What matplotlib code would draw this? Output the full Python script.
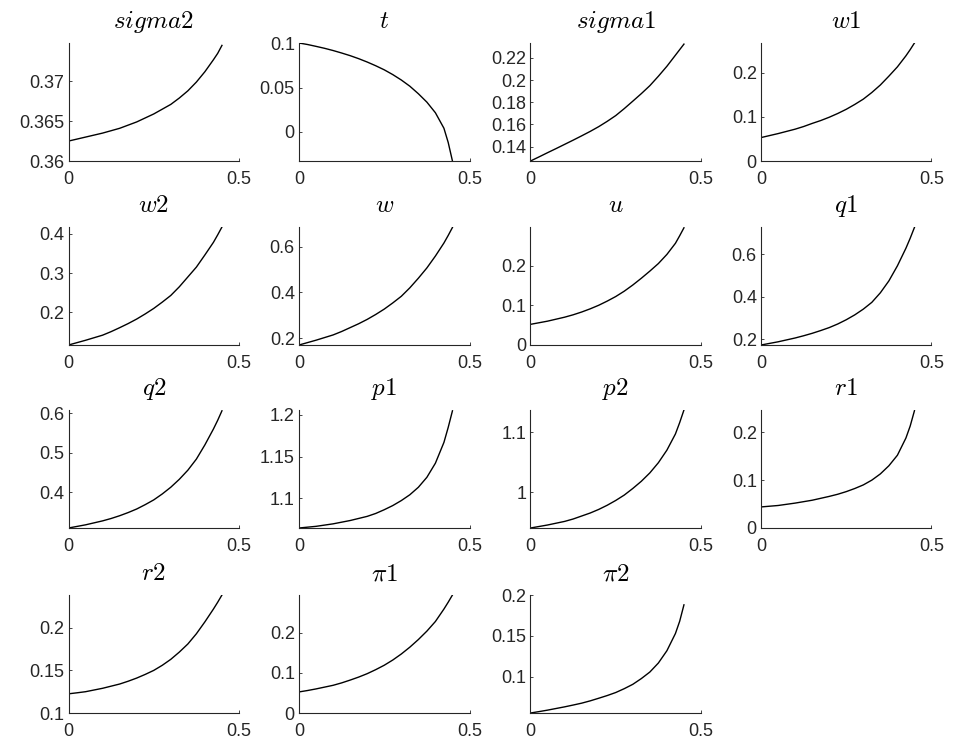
import numpy as np
import matplotlib
matplotlib.use("Agg")
import matplotlib.pyplot as plt

plt.rcParams['font.family'] = ['Liberation Sans', 'DejaVu Sans']
plt.rcParams['mathtext.fontset'] = 'cm'

# common x grid
x = [0, 0.025, 0.05, 0.075, 0.1, 0.125, 0.15, 0.175, 0.2, 0.225,
     0.25, 0.275, 0.3, 0.325, 0.35, 0.375, 0.4, 0.425, 0.4375, 0.45]

sigma2 = [0.3625, 0.36275, 0.3630, 0.36325, 0.3635, 0.3638, 0.3641, 0.3645, 0.3649, 0.3654,
          0.3659, 0.3665, 0.3671, 0.3679, 0.3688, 0.3699, 0.3712, 0.3727, 0.3735, 0.3745]
t = [0.1003, 0.0986, 0.0965, 0.0943, 0.0918, 0.0890, 0.0860, 0.0826, 0.0788, 0.0746,
     0.0700, 0.0646, 0.0585, 0.0515, 0.0430, 0.0335, 0.0215, 0.0040, -0.012, -0.033]
sigma1 = [0.127, 0.1307, 0.1345, 0.1382, 0.142, 0.1458, 0.1497, 0.1537, 0.158, 0.1628,
          0.168, 0.1743, 0.181, 0.1878, 0.195, 0.2035, 0.2125, 0.2225, 0.2275, 0.2325]
w1 = [0.053, 0.0575, 0.062, 0.067, 0.072, 0.078, 0.085, 0.0915, 0.099, 0.1075,
      0.117, 0.128, 0.140, 0.155, 0.172, 0.192, 0.213, 0.238, 0.252, 0.267]
w2 = [0.117, 0.123, 0.129, 0.1355, 0.142, 0.151, 0.161, 0.1715, 0.183, 0.196,
      0.210, 0.226, 0.243, 0.265, 0.290, 0.315, 0.346, 0.378, 0.397, 0.417]
w = [0.170, 0.1805, 0.191, 0.2025, 0.214, 0.229, 0.246, 0.263, 0.282, 0.3035,
     0.327, 0.354, 0.383, 0.420, 0.462, 0.507, 0.559, 0.616, 0.649, 0.684]
u = [0.052, 0.056, 0.060, 0.065, 0.070, 0.076, 0.083, 0.091, 0.100, 0.1105,
     0.122, 0.1355, 0.151, 0.168, 0.186, 0.205, 0.228, 0.256, 0.275, 0.295]
q1 = [0.172, 0.1795, 0.187, 0.196, 0.205, 0.2155, 0.227, 0.240, 0.254, 0.271,
      0.291, 0.314, 0.341, 0.373, 0.418, 0.474, 0.545, 0.628, 0.675, 0.726]
q2 = [0.310, 0.314, 0.318, 0.323, 0.328, 0.334, 0.341, 0.349, 0.358, 0.369,
      0.381, 0.396, 0.413, 0.433, 0.456, 0.484, 0.520, 0.560, 0.582, 0.606]
p1 = [1.064, 1.065, 1.066, 1.0675, 1.069, 1.071, 1.073, 1.0755, 1.078, 1.0815,
      1.086, 1.091, 1.097, 1.104, 1.113, 1.125, 1.142, 1.167, 1.185, 1.205]
p2 = [0.940, 0.9425, 0.945, 0.948, 0.951, 0.955, 0.960, 0.965, 0.971, 0.978,
      0.986, 0.995, 1.006, 1.018, 1.032, 1.049, 1.070, 1.097, 1.116, 1.137]
r1 = [0.044, 0.0455, 0.047, 0.0495, 0.052, 0.055, 0.058, 0.062, 0.066, 0.0705,
      0.076, 0.0825, 0.090, 0.100, 0.113, 0.130, 0.152, 0.188, 0.213, 0.245]
r2 = [0.1225, 0.1237, 0.125, 0.127, 0.129, 0.1315, 0.134, 0.1373, 0.141, 0.1453,
      0.150, 0.156, 0.163, 0.1715, 0.181, 0.193, 0.207, 0.222, 0.230, 0.2385]
pi1 = [0.0525, 0.056, 0.060, 0.0645, 0.069, 0.075, 0.082, 0.0895, 0.098, 0.108,
       0.119, 0.132, 0.147, 0.164, 0.183, 0.204, 0.228, 0.259, 0.276, 0.294]
pi2 = [0.056, 0.0577, 0.0595, 0.0615, 0.0635, 0.0657, 0.068, 0.0708, 0.074, 0.0773,
       0.081, 0.0857, 0.091, 0.098, 0.106, 0.117, 0.132, 0.153, 0.168, 0.188]

titles = [r'$sigma2$', r'$t$', r'$sigma1$', r'$w1$', r'$w2$', r'$w$', r'$u$', r'$q1$',
          r'$q2$', r'$p1$', r'$p2$', r'$r1$', r'$r2$', r'$\pi1$', r'$\pi2$']
series = [sigma2, t, sigma1, w1, w2, w, u, q1, q2, p1, p2, r1, r2, pi1, pi2]
ylims = [(0.36, 0.3748), (-0.033, 0.1003), (0.127, 0.2335), (0, 0.267),
         (0.117, 0.417), (0.170, 0.686), (0, 0.297), (0.172, 0.728),
         (0.310, 0.608), (1.064, 1.206), (0.940, 1.137), (0, 0.2465),
         (0.1, 0.2385), (0, 0.294), (0.056, 0.2)]
yticks = [[0.36, 0.365, 0.37], [0, 0.05, 0.1], [0.14, 0.16, 0.18, 0.2, 0.22], [0, 0.1, 0.2],
          [0.2, 0.3, 0.4], [0.2, 0.4, 0.6], [0, 0.1, 0.2], [0.2, 0.4, 0.6],
          [0.4, 0.5, 0.6], [1.1, 1.15, 1.2], [1, 1.1], [0, 0.1, 0.2],
          [0.1, 0.15, 0.2], [0, 0.1, 0.2], [0.1, 0.15, 0.2]]

W, H = 954, 744
fig = plt.figure(figsize=(W / 100, H / 100), dpi=100)

col_left = [68.5, 299, 530.5, 761]
row_top = [43, 227, 410, 595]
aw, ah = 170.5, 118

for i, (ys, ttl) in enumerate(zip(series, titles)):
    r, c = divmod(i, 4)
    ax = fig.add_axes([col_left[c] / W, 1 - (row_top[r] + ah) / H, aw / W, ah / H])
    ax.plot(x, ys, color='black', lw=1.0)
    ax.set_xlim(0, 0.5)
    ax.set_ylim(*ylims[i])
    ax.set_xticks([0, 0.5])
    ax.set_xticklabels(['0', '0.5'])
    ax.set_yticks(yticks[i])
    ax.set_yticklabels(['%g' % v for v in yticks[i]])
    for s in ['top', 'right']:
        ax.spines[s].set_visible(False)
    for s in ['left', 'bottom']:
        ax.spines[s].set_color('#262626')
        ax.spines[s].set_linewidth(0.8)
    ax.tick_params(direction='in', length=2.5, width=0.6, colors='#262626',
                   labelsize=13, labelcolor='#262626')
    ax.tick_params(axis='x', pad=7)
    ax.tick_params(axis='y', pad=3)
    ax.set_title(ttl, fontsize=18, pad=10.5)

fig.savefig('out.png', dpi=100)
